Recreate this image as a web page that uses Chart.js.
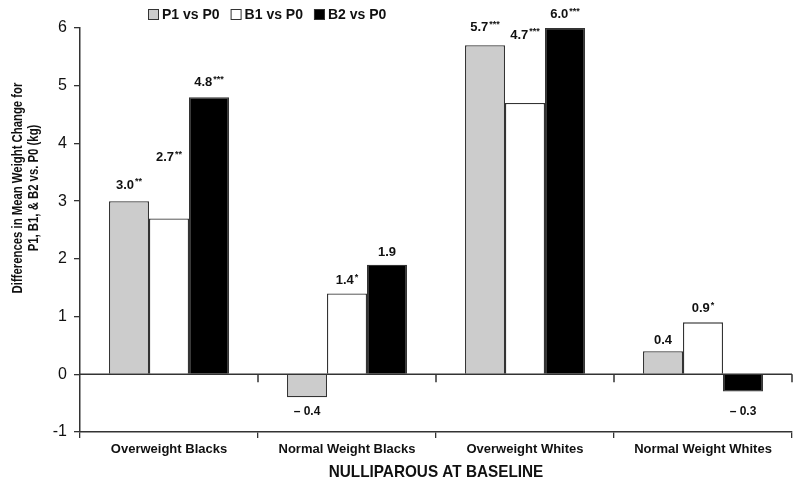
<!DOCTYPE html>
<html>
<head>
<meta charset="utf-8">
<script src="https://cdn.jsdelivr.net/npm/chart.js@4.4.1/dist/chart.umd.min.js"></script>
<style>
    body { margin: 0; background: #fff; }
    #wrap { width: 800px; height: 489px; position: relative; }
</style>
</head>
<body>
<div id="wrap"><canvas id="weightChart"></canvas></div>
<script>
        // 범주 / 시리즈 데이터
        const categories = ['Overweight Blacks', 'Normal Weight Blacks', 'Overweight Whites', 'Normal Weight Whites'];
        const seriesNames = ['P1 vs P0', 'B1 vs P0', 'B2 vs P0'];
        const p1Values = [3.0, -0.4, 5.7, 0.4];
        const b1Values = [2.7, 1.4, 4.7, 0.9];
        const b2Values = [4.8, 1.9, 6.0, -0.3];

        // 유의성 표시 (별표)
        const p1Stars = ['**', '', '***', ''];
        const b1Stars = ['**', '*', '***', '*'];
        const b2Stars = ['***', '', '***', ''];

        // 라벨 위치 (데이터 단위)
        const p1LabelAt = [3.28, -0.64, 6.01, 0.59];
        const b1LabelAt = [3.76, 1.63, 5.88, 1.14];
        const b2LabelAt = [5.06, 2.11, 6.24, -0.64];

        const yTicks = [-1, 0, 1, 2, 3, 4, 5, 6];

        const FONT = '"Liberation Sans", Arial, sans-serif';
        const AXIS = '#333';

        const starsBySet = [p1Stars, b1Stars, b2Stars];
        const labelAtBySet = [p1LabelAt, b1LabelAt, b2LabelAt];

        function fmt(v) {
            return v < 0 ? '\u2013 ' + Math.abs(v).toFixed(1) : v.toFixed(1);
        }

        // 0 기준선 + 구분 눈금
        const zeroLine = {
            id: 'zeroLine',
            afterDatasetsDraw(chart) {
                const { ctx, chartArea, scales: { y } } = chart;
                const y0 = y.getPixelForValue(0);
                const step = (chartArea.right - chartArea.left) / categories.length;
                ctx.save();
                ctx.strokeStyle = AXIS;
                ctx.lineWidth = 1.5;
                ctx.beginPath();
                ctx.moveTo(chartArea.left, y0);
                ctx.lineTo(chartArea.right, y0);
                for (let i = 1; i <= categories.length; i++) {
                    const px = chartArea.left + step * i;
                    ctx.moveTo(px, y0);
                    ctx.lineTo(px, y0 + 8);
                }
                ctx.stroke();
                ctx.restore();
            }
        };

        // 막대 값 라벨
        const valueLabels = {
            id: 'valueLabels',
            afterDatasetsDraw(chart) {
                const { ctx, scales: { y } } = chart;
                ctx.save();
                ctx.fillStyle = '#111';
                ctx.textBaseline = 'middle';
                ctx.textAlign = 'left';
                chart.data.datasets.forEach((ds, di) => {
                    const meta = chart.getDatasetMeta(di);
                    meta.data.forEach((bar, i) => {
                        const v = ds.data[i];
                        const num = fmt(v);
                        const stars = starsBySet[di][i];
                        const py = y.getPixelForValue(labelAtBySet[di][i]);
                        const numFont = v < 0 ? 'bold 12px ' + FONT : 'bold 13px ' + FONT;
                        ctx.font = numFont;
                        const wNum = ctx.measureText(num).width;
                        ctx.font = 'bold 9px ' + FONT;
                        const wStar = stars ? ctx.measureText(stars).width + 1 : 0;
                        const start = bar.x - (wNum + wStar) / 2;
                        ctx.font = numFont;
                        ctx.fillText(num, start, py);
                        if (stars) {
                            ctx.font = 'bold 9px ' + FONT;
                            ctx.fillText(stars, start + wNum + 1, py - 3);
                        }
                    });
                });
                ctx.restore();
            }
        };

        // 범례 + 축 제목
        const extras = {
            id: 'extras',
            afterDraw(chart) {
                const { ctx, chartArea } = chart;
                ctx.save();
                // 범례
                ctx.font = 'bold 14px ' + FONT;
                ctx.textBaseline = 'middle';
                ctx.textAlign = 'left';
                let lx = 148;
                chart.data.datasets.forEach((ds) => {
                    ctx.fillStyle = ds.backgroundColor;
                    ctx.fillRect(lx, 9, 11, 11);
                    ctx.strokeStyle = AXIS;
                    ctx.lineWidth = 1;
                    ctx.strokeRect(lx + 0.5, 9.5, 10, 10);
                    ctx.fillStyle = '#111';
                    ctx.fillText(ds.label, lx + 14, 15);
                    lx += 14 + ctx.measureText(ds.label).width + 11;
                });

                // x축 제목 (좁은 글꼴 느낌으로 가로 압축)
                ctx.save();
                ctx.translate((chartArea.left + chartArea.right) / 2, 472);
                ctx.scale(0.9, 1);
                ctx.font = 'bold 17px ' + FONT;
                ctx.textAlign = 'center';
                ctx.fillText('NULLIPAROUS AT BASELINE', 0, 0);
                ctx.restore();

                // y축 제목
                ctx.translate(25, 188);
                ctx.rotate(-Math.PI / 2);
                ctx.scale(0.81, 1);
                ctx.textAlign = 'center';
                ctx.font = 'bold 14px ' + FONT;
                ctx.fillText('Differences in Mean Weight Change for', 0, -7);
                ctx.fillText('P1, B1, & B2 vs. P0 (kg)', 0, 9);
                ctx.restore();
            }
        };

        function createChart(canvasId) {
            const ctx = document.getElementById(canvasId).getContext('2d');
            const colors = ['#cccccc', '#ffffff', '#000000'];
            const values = [p1Values, b1Values, b2Values];

            return new Chart(ctx, {
                type: 'bar',
                data: {
                    labels: categories,
                    datasets: seriesNames.map((name, i) => ({
                        label: name,
                        data: values[i],
                        backgroundColor: colors[i],
                        borderColor: AXIS,
                        borderWidth: 1.3,
                        categoryPercentage: 0.674,
                        barPercentage: 1.0
                    }))
                },
                options: {
                    responsive: true,
                    maintainAspectRatio: false,
                    animation: false,
                    layout: { padding: { top: 28, right: 8, left: 0, bottom: 0 } },
                    plugins: {
                        legend: { display: false },
                        tooltip: { enabled: false }
                    },
                    scales: {
                        x: {
                            grid: {
                                offset: true,
                                drawOnChartArea: false,
                                drawTicks: true,
                                tickLength: 6,
                                color: AXIS,
                                lineWidth: 1.3
                            },
                            border: { color: AXIS, width: 1.5 },
                            ticks: {
                                color: '#111',
                                padding: 4,
                                maxRotation: 0,
                                font: { family: FONT, size: 13, weight: 'bold' }
                            },
                            afterFit: (scale) => { scale.height = 57; }
                        },
                        y: {
                            min: -1,
                            max: 6,
                            afterBuildTicks: (scale) => { scale.ticks = yTicks.map(v => ({ value: v })); },
                            grid: {
                                drawOnChartArea: false,
                                drawTicks: true,
                                tickLength: 6,
                                color: AXIS,
                                lineWidth: 1.3
                            },
                            border: { color: AXIS, width: 1.5 },
                            ticks: {
                                color: '#111',
                                padding: 7,
                                font: { family: FONT, size: 16 }
                            },
                            afterFit: (scale) => { scale.width = 80; }
                        }
                    }
                },
                plugins: [zeroLine, valueLabels, extras]
            });
        }

        document.addEventListener('DOMContentLoaded', function () {
            createChart('weightChart');
        });
</script>
</body>
</html>
